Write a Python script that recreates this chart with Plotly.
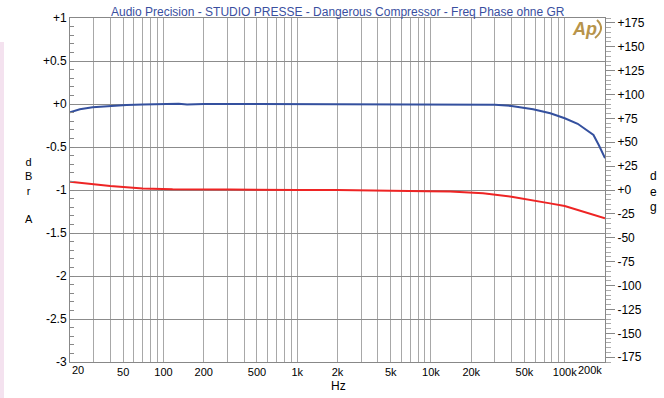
import plotly.graph_objects as go
import numpy as np

# ---- data ----
freq_level = [20, 23.7, 29.5, 40, 53, 70, 89, 110, 130, 150, 200, 500, 1000, 2000, 5000,
              10000, 14000, 20000, 30000, 40000, 58000, 78000, 100000, 125000, 146000,
              164000, 180000, 200000]
level_dbr = [-0.097, -0.062, -0.038, -0.023, -0.012, -0.005, 0.0, 0.004, 0.004, -0.006,
             0.0, 0.0, 0.0, 0.0, 0.0, 0.0, 0.0, -0.002, -0.008, -0.023, -0.062, -0.108,
             -0.166, -0.23, -0.30, -0.36, -0.48, -0.63]

freq_phase = [20, 30, 40, 70, 117, 315, 530, 1000, 2000, 3500, 5000, 9300, 13900, 24500,
              40000, 58000, 77600, 100000, 136000, 170000, 200000]
phase_deg = [8.7, 6.0, 4.2, 1.7, 0.7, 0.5, 0.0, 0.0, 0.0, -0.2, -1.0, -1.2, -1.7, -3.5,
             -7.0, -10.5, -14.0, -16.7, -22.7, -26.5, -29.6]

x_grid = [m * 10 ** e for e in range(1, 6) for m in range(1, 10)]
x_grid = [v for v in x_grid if 20 <= v <= 200000] + [200000]
x_labels = {50: "50", 100: "100", 200: "200", 500: "500", 1000: "1k",
            2000: "2k", 5000: "5k", 10000: "10k", 20000: "20k", 50000: "50k",
            100000: "100k"}
x_edge_labels = {20: "20", 200000: "200k"}

y_left_ticks = [1, 0.5, 0, -0.5, -1, -1.5, -2, -2.5, -3]
y_left_text = ["+1", "+0.5", "+0", "-0.5", "-1", "-1.5", "-2", "-2.5", "-3"]
y_right_ticks = list(range(175, -176, -25))
y_right_text = [("+" + str(v)) if v >= 0 else str(v) for v in y_right_ticks]

title = "Audio Precision - STUDIO PRESSE - Dangerous Compressor - Freq Phase ohne GR"

# ---- figure ----
fig = go.Figure()
fig.add_trace(go.Scatter(x=freq_level, y=level_dbr, mode="lines",
                         line=dict(color="#34509e", width=2), yaxis="y", showlegend=False))
fig.add_trace(go.Scatter(x=freq_phase, y=phase_deg, mode="lines",
                         line=dict(color="#ee2424", width=2), yaxis="y2", showlegend=False))

font = dict(family="Liberation Sans, Arial, sans-serif", size=12, color="#000000")
gridc = "#a8a8a8"

xticktext = [x_labels.get(v, "") for v in x_grid]
fig.update_layout(
    width=664, height=398,
    margin=dict(l=70, r=59, t=18, b=36),
    paper_bgcolor="white", plot_bgcolor="white",
    font=font,
    xaxis=dict(type="log", range=[np.log10(20), np.log10(200000)],
               tickmode="array", tickvals=x_grid, ticktext=xticktext,
               showgrid=True, gridcolor=gridc, gridwidth=1,
               showline=True, linecolor="#888888", mirror=True,
               ticks="", tickfont=dict(size=11), zeroline=False),
    yaxis=dict(range=[-3, 1], tickmode="array", tickvals=y_left_ticks, ticktext=y_left_text,
               showgrid=True, gridcolor="#8c8c8c", gridwidth=1,
               showline=True, linecolor="#888888", mirror=False,
               ticks="inside", ticklen=4, tickcolor="#888888", zeroline=False,
               minor=dict(dtick=0.1, ticks="inside", ticklen=4, tickcolor="#888888", showgrid=False),
               tickfont=dict(size=12)),
    yaxis2=dict(range=[-180, 180], overlaying="y", side="right", tickmode="array",
                tickvals=y_right_ticks, ticktext=y_right_text, showgrid=False,
                showline=True, linecolor="#888888", ticks="outside", ticklen=9,
                tickcolor="#888888", zeroline=False,
                minor=dict(dtick=5, ticks="outside", ticklen=5, tickcolor="#aaaaaa"),
                tickfont=dict(size=12)),
)

# edge x tick labels kept inside the plot width
for xv, txt in x_edge_labels.items():
    fig.add_annotation(text=txt, x=np.log10(xv), xref="x", yref="paper", y=0,
                       yanchor="top", yshift=0,
                       xanchor="left" if xv == 20 else "right",
                       xshift=0 if xv == 20 else -1,
                       showarrow=False, font=dict(size=11, color="#000000"))

# title
fig.add_annotation(text=title, xref="paper", yref="paper", x=0.5, y=1.0, yanchor="bottom",
                   xanchor="center", showarrow=False, yshift=-3,
                   font=dict(family="Liberation Sans, Arial, sans-serif", size=12, color="#3a4f9f"))
# axis labels
fig.add_annotation(text="d<br>B<br>r<br><br>A", xref="paper", yref="paper",
                   x=(29 - 70) / 535, y=(362 - 190.5) / 344, xanchor="center", yanchor="middle",
                   showarrow=False, font=dict(size=11, color="#000000"))
fig.add_annotation(text="d<br>e<br>g", xref="paper", yref="paper",
                   x=(653 - 70) / 535, y=(362 - 191) / 344, xanchor="center", yanchor="middle",
                   showarrow=False, font=dict(size=12, color="#000000"))
fig.add_annotation(text="Hz", xref="paper", yref="paper", x=(338 - 70) / 535,
                   y=(362 - 386) / 344, xanchor="center", yanchor="middle",
                   showarrow=False, font=dict(size=12, color="#000000"))
# logo
fig.add_annotation(text="<b><i>Ap</i></b>", xref="paper", yref="paper",
                   x=(584 - 70) / 535, y=(362 - 29) / 344, xanchor="center", yanchor="middle",
                   showarrow=False, font=dict(family="Liberation Sans, Arial, sans-serif", size=18, color="#b8944a"))
fig.add_shape(type="path", xref="paper", yref="paper",
              path="M {} {} Q {} {} {} {}".format((597 - 70) / 535, (362 - 20) / 344,
                                                     (606 - 70) / 535, (362 - 29) / 344,
                                                     (595 - 70) / 535, (362 - 38) / 344),
              line=dict(color="#b8944a", width=2))
# pink strip on left edge
fig.add_shape(type="rect", xref="paper", yref="paper",
              x0=-70 / 535, x1=(4 - 70) / 535, y0=(362 - 398) / 344, y1=(362 - 42) / 344,
              fillcolor="#f4e2ef", line=dict(width=0), layer="below")

fig.write_html("out.html")
